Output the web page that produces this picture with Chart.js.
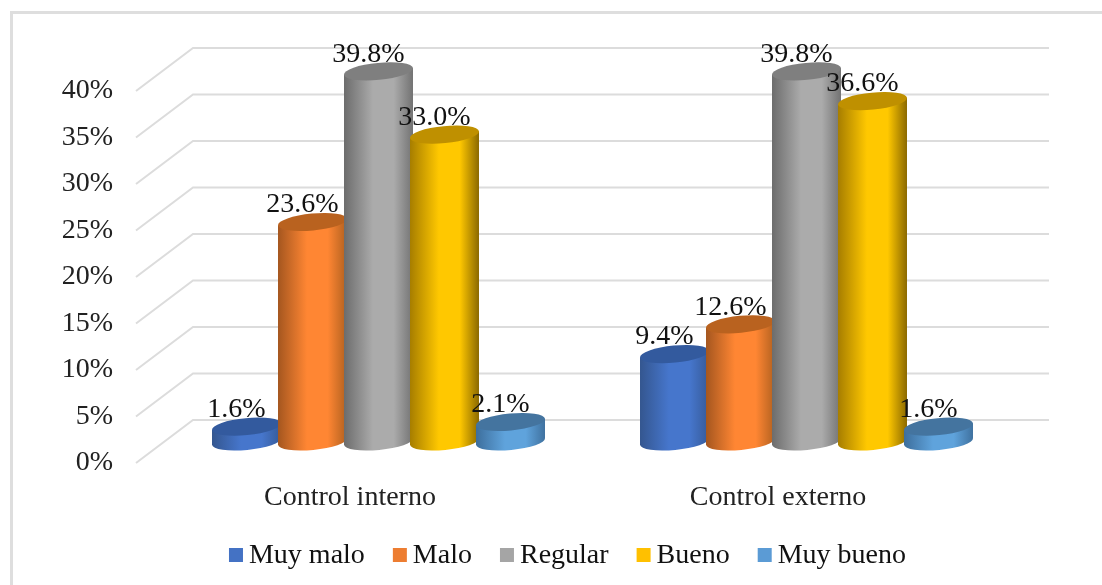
<!DOCTYPE html>
<html>
<head>
<meta charset="utf-8">
<style>
html,body{margin:0;padding:0;background:#fff;}
#wrap{position:relative;width:1102px;height:585px;overflow:hidden;}
#frame{position:absolute;left:10px;top:11px;width:1200px;height:700px;border:3px solid #dedede;box-sizing:border-box;}
canvas{position:absolute;left:0;top:0;}
</style>
<script src="https://cdn.jsdelivr.net/npm/chart.js@4"></script>
</head>
<body>
<div id="wrap"><div id="frame"></div><canvas id="c" width="1102" height="585"></canvas></div>
<script>
const categories = ['Control interno', 'Control externo'];
const muyMalo = [1.6, 9.4];
const malo = [23.6, 12.6];
const regular = [39.8, 39.8];
const bueno = [33.0, 36.6];
const muyBueno = [2.1, 1.6];
const seriesNames = ['Muy malo', 'Malo', 'Regular', 'Bueno', 'Muy bueno'];
const seriesValues = [muyMalo, malo, regular, bueno, muyBueno];
const legendColors = ['#4472c4', '#ed7d31', '#a5a5a5', '#ffc000', '#5b9bd5'];
// Each cylinder: left edge, lit centre, right edge, top cap
const shades = [
  ['#34568f', '#4676cc', '#365a98', '#335a9e'],
  ['#a4561f', '#ff8633', '#b0601f', '#b9621f'],
  ['#6c6c6c', '#ababab', '#727272', '#7f7f7f'],
  ['#a67d00', '#ffc800', '#8a6800', '#bf9000'],
  ['#3d6e9c', '#5fa3dc', '#3f719f', '#44749f']
];

const FONT = '"Liberation Serif","Times New Roman",serif';
const FONT_SIZE = 28;
const DEPTH_X = 57, DEPTH_Y = 43;     // floor depth of the 3D box
const TILT = -5.5 * Math.PI / 180;    // rotation of the elliptical caps
const CAP_RY = 8.5;

function drawCylinder(ctx, cx, topY, baseY, rx, shade) {
  const dx = rx * Math.cos(TILT), dy = rx * Math.sin(TILT);
  const g = ctx.createLinearGradient(cx - rx, 0, cx + rx, 0);
  g.addColorStop(0, shade[0]);
  g.addColorStop(0.42, shade[1]);
  g.addColorStop(0.72, shade[1]);
  g.addColorStop(1, shade[2]);
  ctx.beginPath();
  ctx.moveTo(cx - dx, topY - dy);
  ctx.lineTo(cx - dx, baseY - dy);
  ctx.ellipse(cx, baseY, rx, CAP_RY, TILT, Math.PI, 0, true);
  ctx.lineTo(cx + dx, topY + dy);
  ctx.closePath();
  ctx.fillStyle = g;
  ctx.fill();
  ctx.beginPath();
  ctx.ellipse(cx, topY, rx, CAP_RY, TILT, 0, Math.PI * 2);
  ctx.fillStyle = shade[3];
  ctx.fill();
}

// Back wall and side wall gridlines, taken from the value axis ticks
const wallGrid = {
  id: 'wallGrid',
  beforeDatasetsDraw(chart) {
    const { ctx, chartArea, scales } = chart;
    ctx.save();
    ctx.strokeStyle = '#dcdcdc';
    ctx.lineWidth = 2;
    scales.y.ticks.forEach((t, i) => {
      const y = scales.y.getPixelForTick(i);
      ctx.beginPath();
      ctx.moveTo(chartArea.left, y);
      ctx.lineTo(chartArea.left + DEPTH_X, y - DEPTH_Y);
      ctx.lineTo(chartArea.right + DEPTH_X, y - DEPTH_Y);
      ctx.stroke();
    });
    ctx.restore();
  }
};

// Cylinders stand halfway along the floor depth, drawn over the bar elements
const cylinders = {
  id: 'cylinders',
  afterDatasetsDraw(chart) {
    const { ctx } = chart;
    const ox = DEPTH_X / 2, oy = DEPTH_Y / 2;
    ctx.save();
    chart.data.labels.forEach((_, c) => {
      chart.data.datasets.forEach((ds, s) => {
        const bar = chart.getDatasetMeta(s).data[c];
        drawCylinder(ctx, bar.x + ox, bar.y - oy, bar.base - oy, bar.width * 1.05 / 2, shades[s]);
      });
    });
    ctx.fillStyle = '#111';
    ctx.font = FONT_SIZE + 'px ' + FONT;
    ctx.textAlign = 'center';
    ctx.textBaseline = 'middle';
    chart.data.labels.forEach((_, c) => {
      chart.data.datasets.forEach((ds, s) => {
        const bar = chart.getDatasetMeta(s).data[c];
        ctx.fillText(ds.data[c].toFixed(1) + '%', bar.x + ox - 10, bar.y - oy - 17);
      });
    });
    ctx.restore();
  }
};

// Legend sits right of the plot centre and has wider swatches than its native box
const legendPlacement = {
  id: 'legendPlacement',
  afterLayout(chart) {
    const L = chart.legend;
    L.left += 66.5; L.right += 66.5;
    L.top -= 5; L.bottom -= 5;
  },
  afterDraw(chart) {
    const { ctx, legend } = chart;
    legend.legendHitBoxes.forEach((h, i) => {
      ctx.fillStyle = legendColors[i];
      ctx.fillRect(h.left, h.top + (h.height - 14) / 2 - 1, 14, 14);
    });
  }
};

new Chart(document.getElementById('c'), {
  type: 'bar',
  data: {
    labels: categories,
    datasets: seriesNames.map((name, i) => ({
      label: name,
      data: seriesValues[i],
      backgroundColor: 'rgba(0,0,0,0)',
      borderWidth: 0,
      categoryPercentage: 330 / 428,
      barPercentage: 1
    }))
  },
  options: {
    responsive: false,
    animation: false,
    layout: { padding: { left: 10, right: 110, top: 91, bottom: 0 } },
    scales: {
      x: {
        grid: { display: false },
        border: { display: false },
        ticks: { color: '#222', font: { family: FONT, size: FONT_SIZE }, padding: 10, maxRotation: 0 },
        afterFit(s) { s.height = 56; }
      },
      y: {
        min: 0, max: 40,
        grid: { display: false },
        border: { display: false },
        ticks: {
          stepSize: 5,
          color: '#222',
          padding: 15,
          labelOffset: 0,
          font: { family: FONT, size: FONT_SIZE },
          callback: v => v + '%'
        },
        afterFit(s) { s.width = 126; }
      }
    },
    plugins: {
      tooltip: { enabled: false },
      legend: {
        position: 'bottom',
        labels: {
          color: '#111',
          boxWidth: 6,
          boxHeight: 14,
          padding: 28,
          font: { family: FONT, size: FONT_SIZE }
        }
      }
    }
  },
  plugins: [wallGrid, cylinders, legendPlacement]
});
</script>
</body>
</html>
